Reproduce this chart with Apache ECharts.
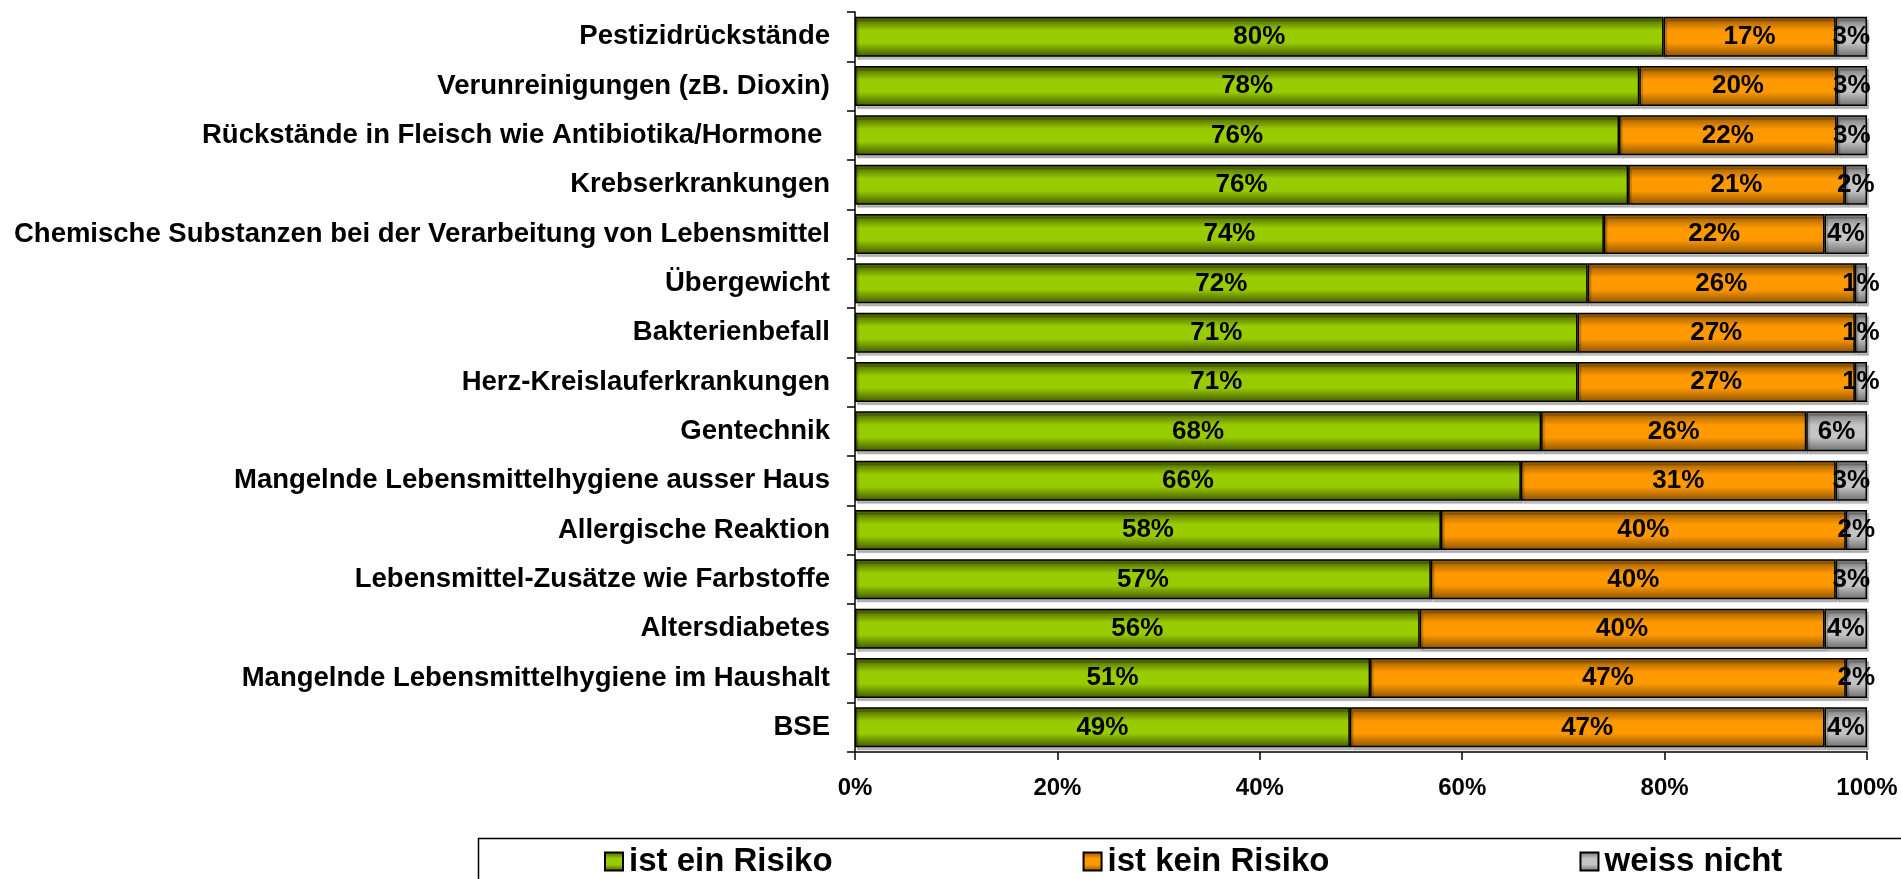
<!DOCTYPE html>
<html>
<head>
<meta charset="utf-8">
<title>Risiken</title>
<script src="https://cdn.jsdelivr.net/npm/echarts@6/dist/echarts.min.js"></script>
<style>
  html, body { margin: 0; padding: 0; background: #fff; }
  #chart { width: 1901px; height: 879px; }
</style>
</head>
<body>
<div id="chart"></div>
<script>
const categories = [
  'Pestizidrückstände',
  'Verunreinigungen (zB. Dioxin)',
  'Rückstände in Fleisch wie Antibiotika/Hormone ',
  'Krebserkrankungen',
  'Chemische Substanzen bei der Verarbeitung von Lebensmittel',
  'Übergewicht',
  'Bakterienbefall',
  'Herz-Kreislauferkrankungen',
  'Gentechnik',
  'Mangelnde Lebensmittelhygiene ausser Haus',
  'Allergische Reaktion',
  'Lebensmittel-Zusätze wie Farbstoffe',
  'Altersdiabetes',
  'Mangelnde Lebensmittelhygiene im Haushalt',
  'BSE'
]

// Anteile in %
const istRisiko = [79.9, 77.5, 75.5, 76.4, 74.0, 72.4, 71.4, 71.4, 67.8, 65.8, 57.9, 56.9, 55.8, 50.9, 48.9]
const keinRisiko = [17.0, 19.5, 21.5, 21.4, 21.8, 26.4, 27.4, 27.4, 26.2, 31.1, 40.0, 40.0, 40.0, 47.0, 46.9]
const weissNicht = [3.1, 3.0, 3.0, 2.2, 4.2, 1.2, 1.2, 1.2, 6.0, 3.1, 2.1, 3.1, 4.2, 2.1, 4.2]

const seriesNames = ['ist ein Risiko', 'ist kein Risiko', 'weiss nicht']
const xTicks = [0, 20, 40, 60, 80, 100]

const font = 'Arial, "Liberation Sans", sans-serif'

const grad = (edge, mid) => new echarts.graphic.LinearGradient(0, 0, 0, 1, [
  { offset: 0, color: edge },
  { offset: 0.35, color: mid },
  { offset: 0.65, color: mid },
  { offset: 1, color: edge }
])

const colors = [
  grad('#425800', '#99cc00'),
  grad('#8c5300', '#ff9900'),
  grad('#6e6e6e', '#c4c4c4')
]

const makeSeries = (name, data, color) => ({
  name,
  type: 'bar',
  stack: 'total',
  data,
  barCategoryGap: '19%',
  itemStyle: {
    color,
    borderColor: '#000',
    borderWidth: 1.5,
    shadowColor: 'rgba(0,0,0,0.25)',
    shadowOffsetX: 2,
    shadowOffsetY: 3,
    shadowBlur: 1
  },
  label: {
    show: true,
    position: 'inside',
    color: '#000',
    fontFamily: font,
    fontWeight: 'bold',
    fontSize: 26,
    formatter: p => Math.round(p.value) + '%'
  },
  emphasis: { disabled: true }
})

const chart = echarts.init(document.getElementById('chart'))

chart.setOption({
  animation: false,
  textStyle: { fontFamily: font },
  grid: { left: 855, right: 34, top: 12, bottom: 127 },
  xAxis: {
    type: 'value',
    min: 0,
    max: 100,
    interval: 20,
    axisLine: { show: true, lineStyle: { color: '#000', width: 1.5 } },
    axisTick: { show: true, length: 8, lineStyle: { color: '#000', width: 1.5 } },
    splitLine: { show: false },
    axisLabel: {
      color: '#000',
      fontFamily: font,
      fontWeight: 'bold',
      fontSize: 24,
      margin: 24,
      formatter: v => xTicks.includes(v) ? v + '%' : ''
    }
  },
  yAxis: {
    type: 'category',
    data: categories,
    inverse: true,
    axisLine: { show: true, lineStyle: { color: '#000', width: 1.5 } },
    axisTick: { show: true, length: 8, lineStyle: { color: '#000', width: 1.5 } },
    axisLabel: {
      color: '#000',
      fontFamily: font,
      fontWeight: 'bold',
      fontSize: 27.5,
      margin: 25
    }
  },
  legend: {
    data: seriesNames,
    left: 604,
    top: 845,
    padding: 0,
    itemGap: 250,
    itemWidth: 18,
    itemHeight: 18,
    icon: 'rect',
    selectedMode: false,
    textStyle: {
      color: '#000',
      fontFamily: font,
      fontWeight: 'bold',
      fontSize: 33,
      padding: [0, 0, 0, 1]
    }
  },
  graphic: [{
    type: 'rect',
    left: 476,
    top: 836,
    shape: { width: 1440, height: 60 },
    style: { fill: 'none', stroke: '#000', lineWidth: 1.5 },
    silent: true
  }],
  series: [
    makeSeries(seriesNames[0], istRisiko, colors[0]),
    makeSeries(seriesNames[1], keinRisiko, colors[1]),
    makeSeries(seriesNames[2], weissNicht, colors[2])
  ]
})

window.addEventListener('resize', () => chart.resize())
</script>
</body>
</html>
